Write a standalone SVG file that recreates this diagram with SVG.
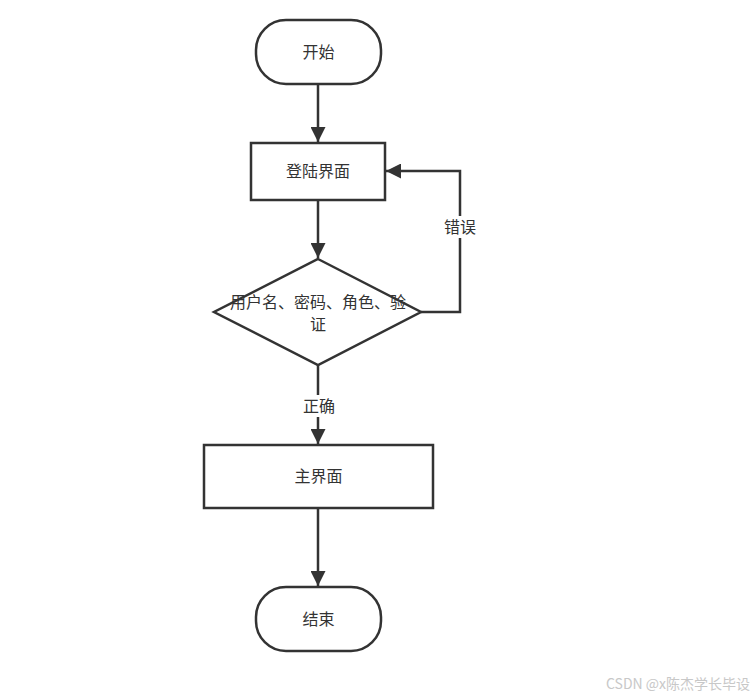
<svg xmlns="http://www.w3.org/2000/svg" width="755" height="697" viewBox="0 0 755 697">
<defs>
<style>
.shape{fill:#fff;stroke:#333;stroke-width:2.5}
.edge{fill:none;stroke:#333;stroke-width:2.5}
.t{font-family:"Noto Sans CJK SC","Liberation Sans",sans-serif;font-size:16px;fill:#333;text-anchor:middle}
.wm{font-family:"Noto Sans CJK SC","Liberation Sans",sans-serif;font-size:14px;fill:#c8c8c8;text-anchor:end}
</style>
<marker id="arr" viewBox="0 0 10 10" refX="10" refY="5" markerWidth="6" markerHeight="6" orient="auto" markerUnits="strokeWidth">
<path d="M0,0 L10,5 L0,10 z" fill="#333"/>
</marker>
</defs>
<rect width="755" height="697" fill="#fff"/>
<g id="connectors">
<path class="edge" d="M318,84 V142" marker-end="url(#arr)"/>
<path class="edge" d="M318,200 V258" marker-end="url(#arr)"/>
<path class="edge" d="M318,365 V444" marker-end="url(#arr)"/>
<path class="edge" d="M318,508 V586" marker-end="url(#arr)"/>
<path class="edge" d="M421,312 H460 V171 H386" marker-end="url(#arr)"/>
<rect x="300" y="395" width="37" height="22" fill="#fff"/>
<text class="t" x="319" y="412">正确</text>
<rect x="441" y="216" width="38" height="22" fill="#fff"/>
<text class="t" x="460" y="233">错误</text>
</g>
<g id="start">
<rect class="shape" x="256" y="20" width="125" height="64" rx="30" ry="30"/>
<text class="t" x="318.5" y="58">开始</text>
</g>
<g id="login">
<rect class="shape" x="251" y="143" width="134" height="57"/>
<text class="t" x="318" y="177">登陆界面</text>
</g>
<g id="check">
<polygon class="shape" points="318,259 421,312 318,365 214,312"/>
<text class="t" x="318" y="308">用户名、密码、角色、验</text>
<text class="t" x="318" y="330">证</text>
</g>
<g id="main">
<rect class="shape" x="204" y="445" width="229" height="63"/>
<text class="t" x="318.5" y="482">主界面</text>
</g>
<g id="end">
<rect class="shape" x="256" y="587" width="125" height="64" rx="30" ry="30"/>
<text class="t" x="318.5" y="625">结束</text>
</g>
<text class="wm" x="750" y="689">CSDN @x陈杰学长毕设</text>
</svg>
